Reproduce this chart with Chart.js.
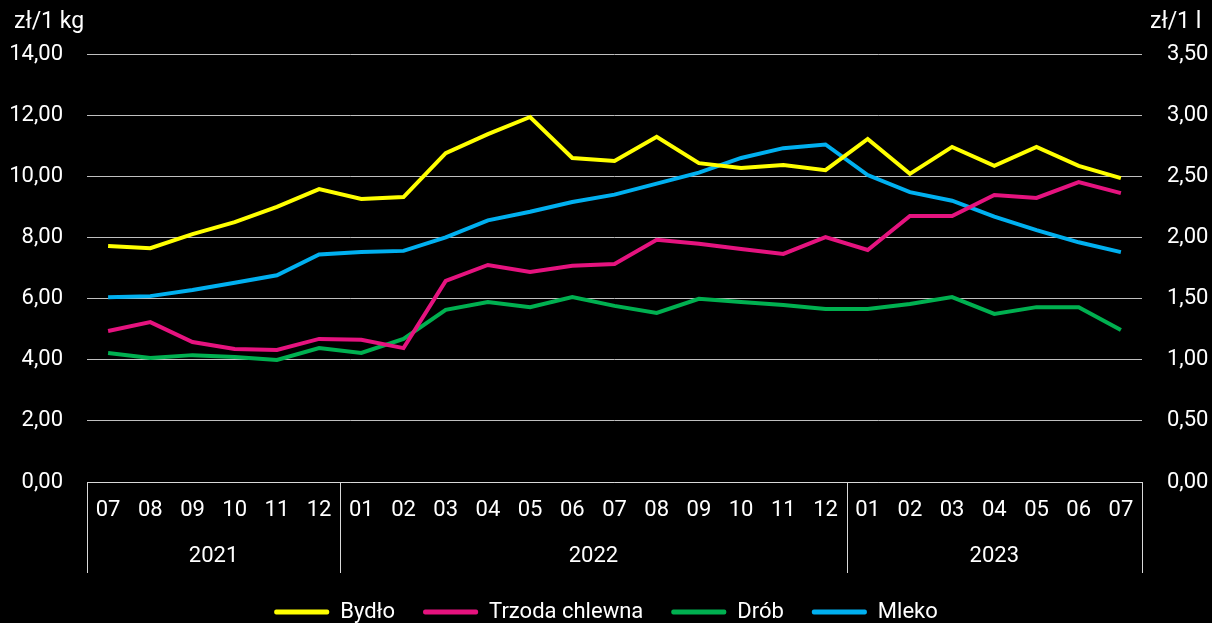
<!DOCTYPE html>
<html>
<head>
<meta charset="utf-8">
<script src="https://cdn.jsdelivr.net/npm/chart.js@4"></script>
<style>
  html, body { margin: 0; padding: 0; background: #000; }
  #wrap { width: 1212px; height: 623px; }
</style>
</head>
<body>
<div id="wrap"><canvas id="chart" width="1212" height="623"></canvas></div>
<script>
const months = ['07', '08', '09', '10', '11', '12',
  '01', '02', '03', '04', '05', '06', '07', '08', '09', '10', '11', '12',
  '01', '02', '03', '04', '05', '06', '07'];
const yearLabels = ['2021', '2022', '2023'];
const yearSpans = [6, 12, 7];

// zł/1 kg
const bydlo = [7.72, 7.65, 8.11, 8.50, 9.00, 9.58, 9.26, 9.32, 10.76, 11.38, 11.94, 10.60, 10.50,
  11.29, 10.43, 10.27, 10.37, 10.20, 11.22, 10.08, 10.96, 10.34, 10.96, 10.34, 9.94];
const trzoda = [4.94, 5.23, 4.58, 4.35, 4.32, 4.68, 4.65, 4.38, 6.58, 7.10, 6.87, 7.07, 7.13,
  7.92, 7.79, 7.62, 7.46, 8.01, 7.59, 8.70, 8.70, 9.39, 9.29, 9.81, 9.45];
const drob = [4.22, 4.06, 4.15, 4.09, 3.99, 4.38, 4.22, 4.68, 5.63, 5.89, 5.72, 6.05, 5.76,
  5.53, 5.99, 5.89, 5.79, 5.66, 5.66, 5.82, 6.05, 5.50, 5.72, 5.72, 4.97];
// zł/1 l
const mleko = [1.51, 1.52, 1.57, 1.63, 1.69, 1.86, 1.88, 1.89, 2.00, 2.14, 2.21, 2.29, 2.35,
  2.44, 2.53, 2.65, 2.73, 2.76, 2.51, 2.37, 2.30, 2.17, 2.06, 1.96, 1.88];

const FONT = 'Roboto, "Noto Sans", sans-serif';
const fmt = v => Number(v).toFixed(2).replace('.', ',');

const yearGroups = {
  id: 'yearGroups',
  afterDraw(chart) {
    const { ctx, chartArea } = chart;
    const x = chart.scales.x;
    const top = chartArea.bottom;
    const h = 91;
    const edges = [chartArea.left];
    let idx = 0;
    yearSpans.forEach((n, i) => {
      idx += n;
      if (i < yearSpans.length - 1) {
        edges.push((x.getPixelForTick(idx - 1) + x.getPixelForTick(idx)) / 2);
      }
    });
    edges.push(chartArea.right);
    ctx.save();
    ctx.strokeStyle = '#d9d9d9';
    ctx.lineWidth = 1;
    ctx.beginPath();
    ctx.moveTo(chartArea.left, top + 0.5);
    ctx.lineTo(chartArea.right, top + 0.5);
    edges.forEach(e => {
      const ex = Math.round(e) + 0.5;
      ctx.moveTo(ex, top);
      ctx.lineTo(ex, top + h);
    });
    ctx.stroke();
    ctx.fillStyle = '#fff';
    ctx.font = '22px ' + FONT;
    ctx.textAlign = 'center';
    ctx.textBaseline = 'middle';
    yearLabels.forEach((lab, i) => {
      ctx.fillText(lab, (edges[i] + edges[i + 1]) / 2, top + 74);
    });
    ctx.font = '23px ' + FONT;
    ctx.textAlign = 'left';
    ctx.fillText('zł/1 kg', 14, 22);
    ctx.fillText('zł/1 l', 1150, 22);
    ctx.restore();
  }
};

const mk = (label, data, color, axis) => ({
  label, data, yAxisID: axis,
  borderColor: color, backgroundColor: color,
  borderWidth: 4, pointRadius: 0, tension: 0, fill: false
});

new Chart(document.getElementById('chart'), {
  type: 'line',
  data: {
    labels: months,
    datasets: [
      mk('Bydło', bydlo, '#ffff00', 'y'),
      mk('Trzoda chlewna', trzoda, '#e5137f', 'y'),
      mk('Drób', drob, '#00b050', 'y'),
      mk('Mleko', mleko, '#00b0f0', 'y1')
    ]
  },
  options: {
    responsive: false,
    animation: false,
    devicePixelRatio: 1,
    layout: { padding: { top: 54, left: 0, right: 0, bottom: -10 } },
    plugins: {
      tooltip: { enabled: false },
      legend: {
        position: 'bottom',
        labels: {
          color: '#fff',
          font: { size: 22, family: FONT },
          boxWidth: 55,
          boxHeight: 5,
          padding: 28,
          useBorderRadius: true,
          borderRadius: 2,
          generateLabels(chart) {
            return Chart.defaults.plugins.legend.labels.generateLabels(chart)
              .map(l => Object.assign(l, { lineWidth: 0 }));
          }
        }
      }
    },
    scales: {
      x: {
        offset: true,
        grid: { display: false, drawTicks: false },
        border: { display: false },
        ticks: { color: '#fff', font: { size: 22, family: FONT }, padding: 15, maxRotation: 0, autoSkip: false },
        afterFit(s) { s.height = 91; }
      },
      y: {
        position: 'left',
        min: 0, max: 14,
        ticks: { stepSize: 2, color: '#fff', font: { size: 22, family: FONT }, padding: 24, callback: fmt },
        grid: { color: '#bfbfbf', lineWidth: 1, drawTicks: false },
        border: { display: false },
        afterFit(s) { s.width = 87; }
      },
      y1: {
        position: 'right',
        min: 0, max: 3.5,
        ticks: { stepSize: 0.5, color: '#fff', font: { size: 22, family: FONT }, padding: 25, callback: fmt },
        grid: { display: false, drawTicks: false },
        border: { display: false },
        afterFit(s) { s.width = 70; }
      }
    }
  },
  plugins: [yearGroups]
});
</script>
</body>
</html>
